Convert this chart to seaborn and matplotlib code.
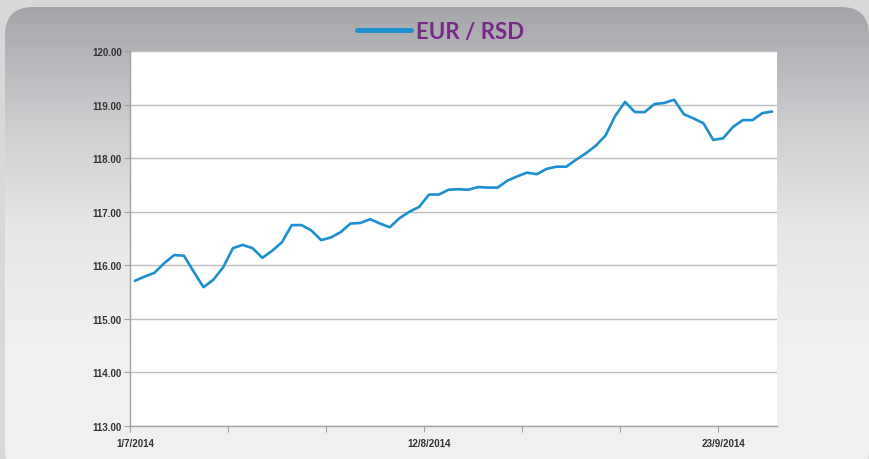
import numpy as np
import pandas as pd
import matplotlib
matplotlib.use("Agg")
import matplotlib.pyplot as plt
from matplotlib.patches import FancyBboxPatch
from matplotlib.ticker import FixedLocator, FormatStrFormatter
import seaborn as sns

# =========================
# DATA
# =========================
# business days, 1/7/2014 - 30/9/2014
dates = pd.bdate_range("2014-07-01", periods=66)
eur_rsd = [
    115.71, 115.79, 115.86, 116.04, 116.19, 116.18, 115.88, 115.59, 115.73, 115.96,
    116.32, 116.38, 116.32, 116.14, 116.27, 116.43, 116.75, 116.75, 116.65, 116.47,
    116.52, 116.62, 116.78, 116.79, 116.86, 116.78, 116.71, 116.88, 117.00, 117.09,
    117.32, 117.32, 117.41, 117.42, 117.41, 117.46, 117.45, 117.45, 117.58, 117.66,
    117.73, 117.70, 117.80, 117.84, 117.84, 117.97, 118.09, 118.23, 118.42, 118.79,
    119.05, 118.86, 118.86, 119.01, 119.03, 119.09, 118.82, 118.74, 118.65, 118.34,
    118.37, 118.58, 118.71, 118.71, 118.84, 118.87,
]
label_idx = [0, 30, 60]
tick_labels = [f"{dates[i].day}/{dates[i].month}/{dates[i].year}" for i in label_idx]
series_name = "EUR / RSD"

df = pd.DataFrame({"pos": np.arange(len(eur_rsd)), "rate": eur_rsd})

# =========================
# FIGURE + BACKGROUND
# =========================
sns.set_style("white")
plt.rcParams["font.family"] = ["Liberation Sans", "DejaVu Sans"]

fig = plt.figure(figsize=(8.7, 4.6), dpi=100)
fig.patch.set_facecolor("#d8d8d8")

bg = fig.add_axes([0, 0, 1, 1])
bg.set_xlim(0, 870)
bg.set_ylim(460, 0)
bg.axis("off")
panel = FancyBboxPatch((5, 8), 864, 470, boxstyle="round,pad=0,rounding_size=28",
                       facecolor="none", edgecolor="none")
bg.add_patch(panel)
grad = np.linspace(0, 1, 256).reshape(-1, 1)
cmap = matplotlib.colors.LinearSegmentedColormap.from_list(
    "bg", ["#a2a3a7", "#c9cacc", "#e6e7e9", "#eff0f2", "#f0f1f3"])
im = bg.imshow(grad, cmap=cmap, extent=(0, 870, 460, 0), aspect="auto", zorder=0)
im.set_clip_path(panel)

# =========================
# CHART
# =========================
ax = fig.add_axes([130 / 870, 1 - 427 / 460, 647 / 870, 375 / 460])
ax.set_facecolor("white")
sns.lineplot(data=df, x="pos", y="rate", ax=ax, color="#1b8fcf", linewidth=1.9,
             label=series_name, legend=False)

ax.set_xlim(-0.5, len(eur_rsd) - 0.5)
ax.set_ylim(113, 120)
ax.yaxis.set_major_locator(FixedLocator(np.arange(113, 121, 1)))
ax.yaxis.set_major_formatter(FormatStrFormatter("%.2f"))
ax.grid(axis="y", color="#bdbdbd", linewidth=1.0)
ax.grid(axis="x", visible=False)

ax.set_xticks(np.arange(-0.5, len(eur_rsd), 10))
ax.set_xticklabels([])
ax.set_xticks(label_idx, minor=True)
ax.set_xticklabels(tick_labels, minor=True)
ax.tick_params(axis="x", which="major", direction="out", length=4, color="#a0a0a0",
               bottom=True)
ax.tick_params(axis="x", which="minor", length=0, pad=9, labelsize=7,
               labelcolor="#333333")
ax.tick_params(axis="y", direction="out", length=4, color="#a0a0a0", left=True,
               labelsize=7, labelcolor="#333333", pad=2)
for lab in ax.get_xticklabels(minor=True) + ax.get_yticklabels():
    lab.set_fontweight("bold")

for side in ["top", "right"]:
    ax.spines[side].set_visible(False)
for side in ["left", "bottom"]:
    ax.spines[side].set_color("#a0a0a0")
    ax.spines[side].set_linewidth(1.0)
ax.set_xlabel("")
ax.set_ylabel("")

# legend used as title
handles, labels = ax.get_legend_handles_labels()
leg = fig.legend(handles, labels, loc="center", bbox_to_anchor=(441 / 870, 1 - 32 / 460),
                 frameon=False, handlelength=2.4, handletextpad=0.25,
                 prop={"family": ["Lato", "Liberation Sans"], "weight": "bold",
                       "size": 16})
for line in leg.get_lines():
    line.set_linewidth(3.5)
    line.set_solid_capstyle("round")
for txt in leg.get_texts():
    txt.set_color("#762a86")

fig.savefig("out.png", dpi=100, facecolor=fig.get_facecolor())
